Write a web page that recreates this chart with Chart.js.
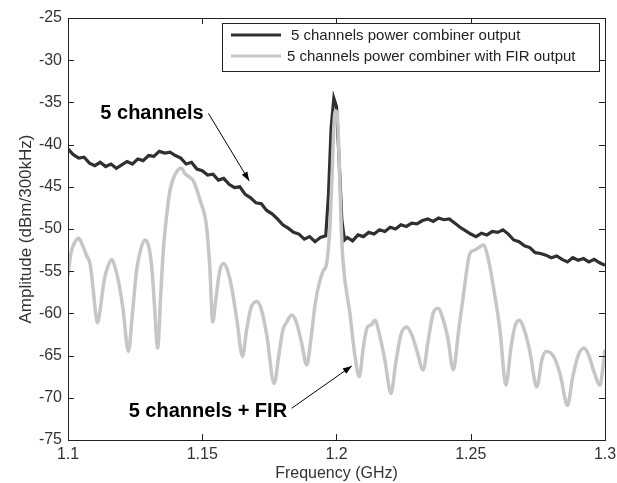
<!DOCTYPE html>
<html><head><meta charset="utf-8">
<script src="https://cdn.jsdelivr.net/npm/chart.js@4/dist/chart.umd.min.js"></script>
<style>html,body{margin:0;padding:0;background:#fff}#wrap{width:617px;height:483px}</style>
</head><body><div id="wrap"><canvas id="c" width="617" height="483"></canvas></div>
<script>
// ---- data ----
const seriesNames = ['5 channels power combiner output', '5 channels power combiner with FIR output'];

const darkFreq = [1.100,1.102,1.104,1.106,1.108,1.110,1.112,1.114,1.116,1.118,1.120,1.122,1.124,1.126,1.128,1.130,1.132,1.134,1.136,1.138,1.140,1.142,1.144,1.146,1.148,1.150,1.152,1.154,1.156,1.158,1.160,1.162,1.164,1.166,1.168,1.170,1.172,1.174,1.176,1.178,1.180,1.182,1.184,1.186,1.188,1.190,1.192,1.194,1.196,1.197,1.198,1.199,1.200,1.201,1.202,1.203,1.204,1.206,1.208,1.210,1.212,1.214,1.216,1.218,1.220,1.222,1.224,1.226,1.228,1.230,1.232,1.234,1.236,1.238,1.240,1.242,1.244,1.246,1.248,1.250,1.252,1.254,1.256,1.258,1.260,1.262,1.264,1.266,1.268,1.270,1.272,1.274,1.276,1.278,1.280,1.282,1.284,1.286,1.288,1.290,1.292,1.294,1.296,1.298,1.300];
const darkAmp = [-40.5,-41.2,-41.6,-41.5,-42.2,-42.5,-42.1,-42.6,-42.3,-42.8,-42.4,-42.0,-42.3,-41.7,-41.9,-41.3,-41.4,-40.8,-41.0,-40.9,-41.3,-41.6,-42.3,-42.1,-42.9,-43.1,-43.6,-43.5,-44.2,-44.0,-44.7,-45.1,-45.0,-45.9,-46.3,-46.9,-47.0,-47.8,-48.2,-48.8,-49.5,-49.9,-50.4,-50.6,-51.2,-50.9,-51.5,-51.0,-50.8,-46.0,-38.0,-34.5,-35.5,-42.0,-49.0,-51.3,-51.0,-51.4,-50.7,-50.9,-50.4,-50.6,-50.1,-50.3,-49.8,-50.0,-49.5,-49.7,-49.3,-49.4,-49.0,-48.8,-49.1,-48.7,-48.9,-48.8,-49.3,-49.8,-50.2,-50.6,-50.9,-50.5,-50.7,-50.3,-50.4,-50.1,-50.6,-51.3,-51.5,-52.0,-52.2,-52.8,-52.9,-53.1,-53.4,-53.2,-53.6,-53.9,-53.4,-53.7,-53.5,-53.9,-53.6,-54.0,-54.3];

const firFreq = [1.1000,1.1010,1.1025,1.1040,1.1055,1.1070,1.1082,1.1094,1.1103,1.1110,
  1.1120,1.1135,1.1150,1.1163,1.1175,1.1190,1.1205,1.1225,1.1240,1.1255,
  1.1270,1.1287,1.1300,1.1312,1.1322,1.1334,1.1345,1.1355,1.1367,1.1380,
  1.1395,1.1410,1.1423,1.1435,1.1450,1.1467,1.1492,1.1516,1.1528,1.1539,
  1.1550,1.1565,1.1580,1.1595,1.1610,1.1630,1.1650,1.1665,1.1680,1.1703,
  1.1720,1.1740,1.1768,1.1785,1.1800,1.1815,1.1833,1.1850,1.1870,1.1889,
  1.1905,1.1920,1.1935,1.1950,1.1963,1.1975,1.1983,1.1990,1.1996,1.2003,
  1.2010,1.2018,1.2025,1.2050,1.2069,1.2085,1.2100,1.2115,1.2128,1.2143,
  1.2160,1.2180,1.2203,1.2220,1.2240,1.2261,1.2280,1.2300,1.2323,1.2340,
  1.2360,1.2379,1.2395,1.2415,1.2435,1.2455,1.2472,1.2497,1.2515,1.2530,
  1.2547,1.2565,1.2584,1.2609,1.2631,1.2650,1.2665,1.2681,1.2700,1.2720,
  1.2746,1.2765,1.2780,1.2798,1.2815,1.2835,1.2860,1.2880,1.2900,1.2922,
  1.2940,1.2960,1.2981,1.2992,1.3000];
const firAmp = [-55.5,-53.0,-51.6,-51.1,-52.0,-53.2,-54.1,-57.2,-60.0,-61.1,
  -59.5,-56.0,-54.3,-53.6,-54.5,-56.5,-59.5,-64.5,-60.0,-55.0,
  -52.5,-51.3,-52.0,-54.5,-59.0,-64.1,-58.0,-52.5,-48.5,-45.4,
  -43.8,-43.0,-42.8,-43.4,-43.8,-44.3,-46.6,-49.7,-54.5,-61.0,
  -58.5,-55.0,-54.1,-55.0,-57.0,-61.0,-65.1,-62.0,-59.5,-58.6,
  -59.5,-62.5,-68.3,-65.0,-62.0,-61.0,-60.2,-61.0,-63.5,-66.1,
  -63.0,-59.0,-56.5,-55.0,-54.1,-50.0,-44.0,-38.0,-36.0,-36.5,
  -42.0,-50.0,-54.1,-60.0,-65.1,-67.5,-64.0,-61.6,-61.4,-60.8,
  -62.5,-65.5,-69.5,-66.0,-62.5,-61.6,-62.5,-64.5,-66.7,-63.5,
  -60.0,-59.4,-60.5,-63.0,-66.7,-62.0,-58.0,-52.9,-52.5,-52.2,
  -51.9,-53.5,-56.8,-62.0,-68.5,-64.0,-61.5,-60.8,-62.0,-64.5,
  -68.7,-65.5,-64.5,-64.7,-65.5,-67.5,-70.9,-67.5,-65.0,-64.1,
  -65.0,-67.0,-68.5,-66.5,-64.3];

const xTicks = [1.1, 1.15, 1.2, 1.25, 1.3];
const yTicks = [-75, -70, -65, -60, -55, -50, -45, -40, -35, -30, -25];

const annotationTexts = ['5 channels', '5 channels + FIR'];

// ---- chart ----
const FONT = 'Liberation Sans, Arial, Helvetica, sans-serif';
const darkColor = '#303030';
const lightColor = '#c6c6c6';

const framePlugin = {
  id: 'frame',
  afterDraw(chart) {
    const {ctx, chartArea: a, scales: {x, y}} = chart;
    ctx.save();
    ctx.strokeStyle = '#222';
    ctx.lineWidth = 1;
    ctx.beginPath();
    x.ticks.forEach(t => {
      const px = Math.round(x.getPixelForValue(t.value)) + 0.5;
      ctx.moveTo(px, a.bottom); ctx.lineTo(px, a.bottom - 6);
      ctx.moveTo(px, a.top); ctx.lineTo(px, a.top + 6);
    });
    y.ticks.forEach(t => {
      const py = Math.round(y.getPixelForValue(t.value)) + 0.5;
      ctx.moveTo(a.left, py); ctx.lineTo(a.left + 6, py);
      ctx.moveTo(a.right, py); ctx.lineTo(a.right - 6, py);
    });
    ctx.stroke();
    ctx.strokeRect(Math.round(a.left) + 0.5, Math.round(a.top) + 0.5, Math.round(a.right - a.left), Math.round(a.bottom - a.top));
    ctx.restore();
  }
};

const legendPlugin = {
  id: 'boxLegend',
  afterDraw(chart) {
    const {ctx, chartArea: a} = chart;
    const w = 377, h = 48;
    const bx = a.right - 6 - w, by = a.top + 5;
    ctx.save();
    ctx.fillStyle = '#fff';
    ctx.fillRect(bx, by, w, h);
    ctx.strokeStyle = '#222';
    ctx.lineWidth = 1;
    ctx.strokeRect(Math.round(bx) + 0.5, Math.round(by) + 0.5, w, h);
    ctx.font = '15px ' + FONT;
    ctx.textBaseline = 'middle';
    ctx.fillStyle = '#222';
    const rows = [{c: darkColor, lw: 3, tx: 69, dy: 12}, {c: lightColor, lw: 3, tx: 65, dy: 33}];
    rows.forEach((r, i) => {
      ctx.strokeStyle = r.c; ctx.lineWidth = r.lw;
      ctx.beginPath();
      ctx.moveTo(bx + 9, by + r.dy); ctx.lineTo(bx + 59, by + r.dy);
      ctx.stroke();
      ctx.fillText(seriesNames[i], bx + r.tx, by + r.dy + 1);
    });
    ctx.restore();
  }
};

const notePlugin = {
  id: 'notes',
  afterDraw(chart, args, opts) {
    const {ctx, scales: {x, y}} = chart;
    ctx.save();
    opts.items.forEach((n, i) => {
      ctx.font = 'bold 20px ' + FONT;
      ctx.fillStyle = '#000';
      ctx.textAlign = 'center';
      ctx.textBaseline = 'middle';
      ctx.fillText(annotationTexts[i], x.getPixelForValue(n.at[0]), y.getPixelForValue(n.at[1]));
      const x1 = x.getPixelForValue(n.from[0]), y1 = y.getPixelForValue(n.from[1]);
      const x2 = x.getPixelForValue(n.to[0]), y2 = y.getPixelForValue(n.to[1]);
      ctx.strokeStyle = '#000'; ctx.lineWidth = 1;
      ctx.beginPath(); ctx.moveTo(x1, y1); ctx.lineTo(x2, y2); ctx.stroke();
      const ang = Math.atan2(y2 - y1, x2 - x1), L = 9, W = 3.2;
      ctx.beginPath();
      ctx.moveTo(x2, y2);
      ctx.lineTo(x2 - L * Math.cos(ang) + W * Math.sin(ang), y2 - L * Math.sin(ang) - W * Math.cos(ang));
      ctx.lineTo(x2 - L * Math.cos(ang) - W * Math.sin(ang), y2 - L * Math.sin(ang) + W * Math.cos(ang));
      ctx.closePath(); ctx.fillStyle = '#000'; ctx.fill();
    });
    ctx.restore();
  }
};

new Chart(document.getElementById('c'), {
  type: 'line',
  data: {
    datasets: [
      {label: seriesNames[0], data: darkFreq.map((f, i) => ({x: f, y: darkAmp[i]})),
       borderColor: darkColor, borderWidth: 3.2, pointRadius: 0, tension: 0, order: 1},
      {label: seriesNames[1], data: firFreq.map((f, i) => ({x: f, y: firAmp[i]})),
       borderColor: lightColor, borderWidth: 3.5, pointRadius: 0, cubicInterpolationMode: 'monotone', order: 0}
    ]
  },
  options: {
    responsive: false,
    animation: false,
    devicePixelRatio: 1,
    layout: {padding: {top: 18, right: 12, left: 0, bottom: 0}},
    plugins: {
      legend: {display: false},
      tooltip: {enabled: false},
      notes: {items: [
        {at: [1.1313, -36.3], from: [1.1523, -36.3], to: [1.1675, -44.3]},
        {at: [1.1521, -71.65], from: [1.1833, -71.24], to: [1.2057, -66.23]}
      ]}
    },
    scales: {
      x: {
        type: 'linear', min: 1.1, max: 1.3,
        afterBuildTicks: s => { s.ticks = xTicks.map(v => ({value: v})); },
        afterFit: s => { s.height = 43; s.paddingRight = 0; s.paddingLeft = 0; },
        grid: {display: false, drawTicks: false},
        border: {display: false},
        ticks: {font: {family: FONT, size: 16}, color: '#333', padding: 5, maxRotation: 0,
                callback: v => String(Number(v.toFixed(2)))},
        title: {display: true, text: 'Frequency (GHz)', font: {family: FONT, size: 16}, color: '#333', padding: {top: 0, bottom: 0}}
      },
      y: {
        type: 'linear', min: -75, max: -25,
        afterBuildTicks: s => { s.ticks = yTicks.map(v => ({value: v})); },
        afterFit: s => { s.width = 68; },
        grid: {display: false, drawTicks: false},
        border: {display: false},
        ticks: {font: {family: FONT, size: 16}, color: '#333', padding: 6},
        title: {display: true, text: 'Amplitude (dBm/300kHz)', font: {family: FONT, size: 17}, color: '#333', padding: {top: 16, bottom: 0}}
      }
    }
  },
  plugins: [framePlugin, legendPlugin, notePlugin]
});
</script>
</body></html>
